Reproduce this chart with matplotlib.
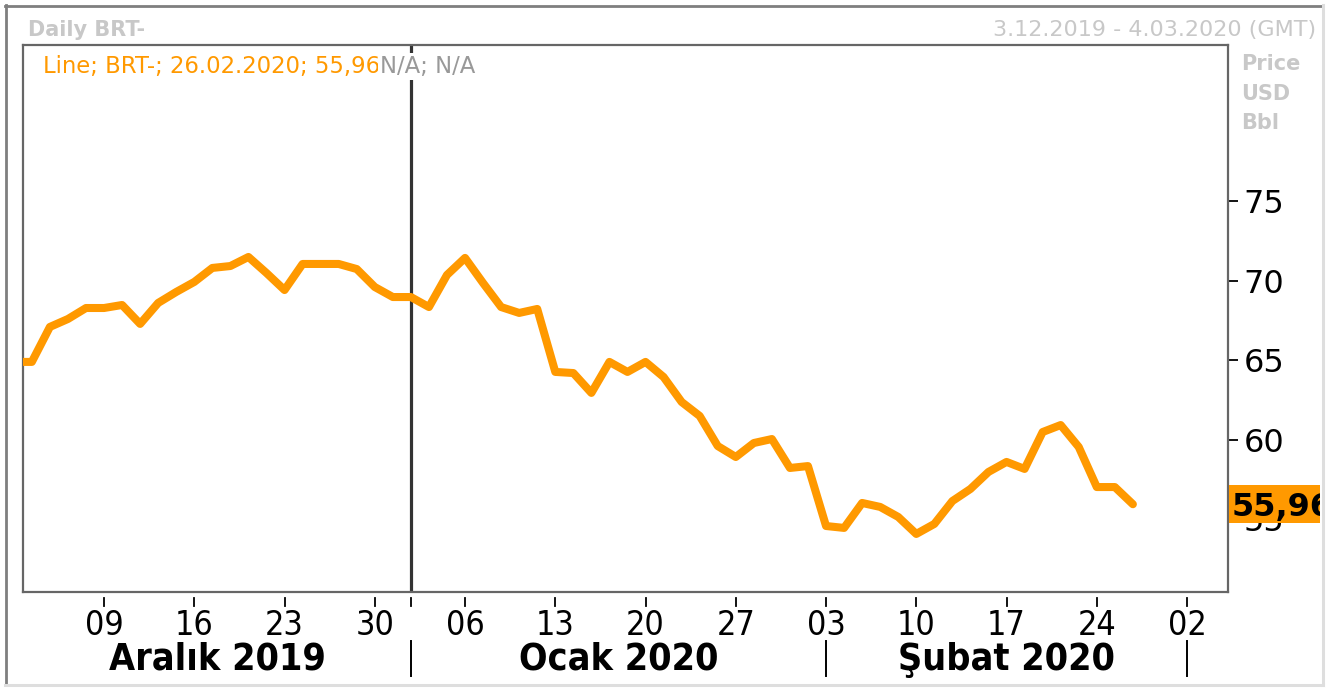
import numpy as np
import pandas as pd
import matplotlib
matplotlib.use("Agg")
import matplotlib.pyplot as plt
from matplotlib import font_manager as fm
from matplotlib.lines import Line2D
from matplotlib.patches import Rectangle
from matplotlib.transforms import blended_transform_factory

# ---------------- data ----------------
dec_dates = pd.bdate_range("2019-12-02", "2019-12-31")
jan_dates = pd.bdate_range("2020-01-01", "2020-01-31")
feb_dates = pd.bdate_range("2020-02-03", "2020-02-26")

dec_values = [64.91, 64.91, 67.11, 67.61, 68.30, 68.30, 68.49, 67.30, 68.62, 69.31,
              69.94, 70.82, 70.94, 71.51, 70.50, 69.43, 71.07, 71.07, 71.07, 70.75,
              69.62, 68.99]
jan_values = [68.99, 68.36, 70.38, 71.45, 69.87, 68.36, 67.99, 68.24, 64.28, 64.21,
              62.96, 64.91, 64.28, 64.91, 63.96, 62.39, 61.51, 59.62, 58.93, 59.81,
              60.06, 58.24, 58.36]
feb_values = [54.59, 54.47, 56.04, 55.79, 55.16, 54.09, 54.72, 56.16, 56.92, 57.99,
              58.62, 58.18, 60.50, 60.94, 59.56, 57.04, 57.04, 55.96]

y_ticks = [55, 60, 65, 70, 75]
week_ticks = pd.date_range("2019-12-09", "2020-03-02", freq="7D")
month_starts = [pd.Timestamp("2020-01-01"), pd.Timestamp("2020-02-03"), pd.Timestamp("2020-03-02")]
month_names = ["Aralık 2019", "Ocak 2020", "Şubat 2020"]
year_break = pd.Timestamp("2020-01-01")

title_left = "Daily BRT-"
title_right = "3.12.2019 - 4.03.2020 (GMT)"
legend_main = "Line; BRT-; 26.02.2020; 55,96"
legend_na = "N/A; N/A"
unit_lines = ["Price", "USD", "Bbl"]
last_value = 55.96
last_label = "55,96"

ORANGE = "#FF9900"
LIGHT = "#c8c8c8"

# ---------------- helpers ----------------
W, H = 1337, 691


def fx(x):
    return x / W


def fy(y):
    return 1 - y / H


def cond_font(weight, size):
    cands = [("DejaVu Sans", "condensed"), ("Liberation Sans Narrow", "normal")]
    for fam, stretch in cands:
        fp = fm.FontProperties(family=fam, stretch=stretch, weight=weight, size=size)
        try:
            f = fm.findfont(fp, fallback_to_default=False)
        except Exception:
            continue
        if "ondensed" in f or "Narrow" in f:
            return fp
    return fm.FontProperties(family="DejaVu Sans", weight=weight, size=size * 0.9)


cal = pd.bdate_range("2019-12-02", "2020-03-06")
pos = {d: i for i, d in enumerate(cal)}

dates = list(dec_dates) + list(jan_dates) + list(feb_dates)
values = dec_values + jan_values + feb_values
xs = [pos[d] for d in dates]

# ---------------- figure ----------------
fig = plt.figure(figsize=(W / 100, H / 100), dpi=100)
ax = fig.add_axes([fx(23), fy(592), fx(1228) - fx(23), fy(45) - fy(592)])

ax.plot(xs, values, color=ORANGE, lw=5.8, solid_joinstyle="round",
        solid_capstyle="round", zorder=3)
ax.axvline(pos[year_break], color="#333333", lw=2.3, zorder=2)

xmin, xmax = 0.51, 67.27
ax.set_xlim(xmin, xmax)
ax.set_ylim(50.44, 84.84)

for s in ax.spines.values():
    s.set_color("#666666")
    s.set_linewidth(1.6)

ax.yaxis.tick_right()
ax.set_yticks(y_ticks)
ax.set_yticklabels([str(v) for v in y_ticks])
ax.tick_params(axis="y", direction="out", length=7, width=1.3, colors="black",
               labelsize=23, pad=4)
ax.set_xticks([])

# bottom axis (manual, detached tick marks)
xt = blended_transform_factory(ax.transData, fig.transFigure)
tick_font = cond_font("normal", 24.5)
month_font = cond_font("bold", 27)

tick_pos = [pos[d] for d in week_ticks]
for d, p in zip(week_ticks, tick_pos):
    fig.add_artist(Line2D([p, p], [fy(598), fy(606)], transform=xt, color="black", lw=1.3))
    fig.text(p, fy(635), f"{d.day:02d}", transform=xt, ha="center", va="baseline",
             fontproperties=tick_font, color="black")

ms_pos = [pos[d] for d in month_starts]
for p in ms_pos:
    if p not in tick_pos:
        fig.add_artist(Line2D([p, p], [fy(598), fy(606)], transform=xt, color="black", lw=1.3))
    fig.add_artist(Line2D([p, p], [fy(641), fy(676)], transform=xt, color="black", lw=1.4))

bounds = [xmin] + ms_pos
for name, a, b in zip(month_names, bounds[:-1], bounds[1:]):
    fig.text((a + b) / 2, fy(670), name, transform=xt, ha="center", va="baseline",
             fontproperties=month_font, color="black")

# header texts
fig.text(fx(28), fy(36), title_left, ha="left", va="baseline", fontsize=15,
         fontweight="bold", color=LIGHT)
fig.text(fx(1316), fy(36), title_right, ha="right", va="baseline", fontsize=16,
         color=LIGHT)
for i, t in enumerate(unit_lines):
    fig.text(fx(1241), fy(70 + 29.5 * i), t, ha="left", va="baseline", fontsize=15,
             fontweight="bold", color=LIGHT)

# legend line
t1 = fig.text(fx(43), fy(73), legend_main, ha="left", va="baseline", fontsize=16.4,
              color=ORANGE, zorder=6)
t1.set_bbox(dict(facecolor="white", edgecolor="none", pad=1.5))
t2 = fig.text(0, 0, legend_na, fontsize=16.4, color="#999999", zorder=6)
t2.set_bbox(dict(facecolor="white", edgecolor="none", pad=1.5))
fig.canvas.draw()
bb = t1.get_window_extent()
t2.set_position(fig.transFigure.inverted().transform((bb.x1, 0)))
t2.set_y(fy(73))
t2.set_va("baseline")

# last-value box on the right
yt = blended_transform_factory(fig.transFigure, ax.transData)
box_h = 38 / ((fy(45) - fy(592)) * H) * (84.84 - 50.44)
rect = Rectangle((fx(1229), last_value - box_h / 2), fx(1320) - fx(1229), box_h,
                 transform=yt, facecolor=ORANGE, edgecolor="none", zorder=5)
fig.add_artist(rect)
tv = fig.text(fx(1232), last_value, last_label, transform=yt, ha="left",
              va="center_baseline", fontsize=23, fontweight="bold", color="black", zorder=6)
fig.canvas.draw()
tv.set_clip_box(rect.get_window_extent())
tv.set_clip_on(True)

# outer frame
fig.add_artist(Line2D([fx(5.5), fx(5.5)], [fy(5), fy(685)], transform=fig.transFigure,
                      color="#7f7f7f", lw=2))
fig.add_artist(Line2D([fx(5), fx(1323)], [fy(5.5), fy(5.5)], transform=fig.transFigure,
                      color="#7f7f7f", lw=2))
fig.add_artist(Line2D([fx(1322.5), fx(1322.5)], [fy(5), fy(685)], transform=fig.transFigure,
                      color="#dedede", lw=2.2))
fig.add_artist(Line2D([fx(5), fx(1323)], [fy(684.5), fy(684.5)], transform=fig.transFigure,
                      color="#dedede", lw=2.2))

fig.savefig("out.png", dpi=100)
